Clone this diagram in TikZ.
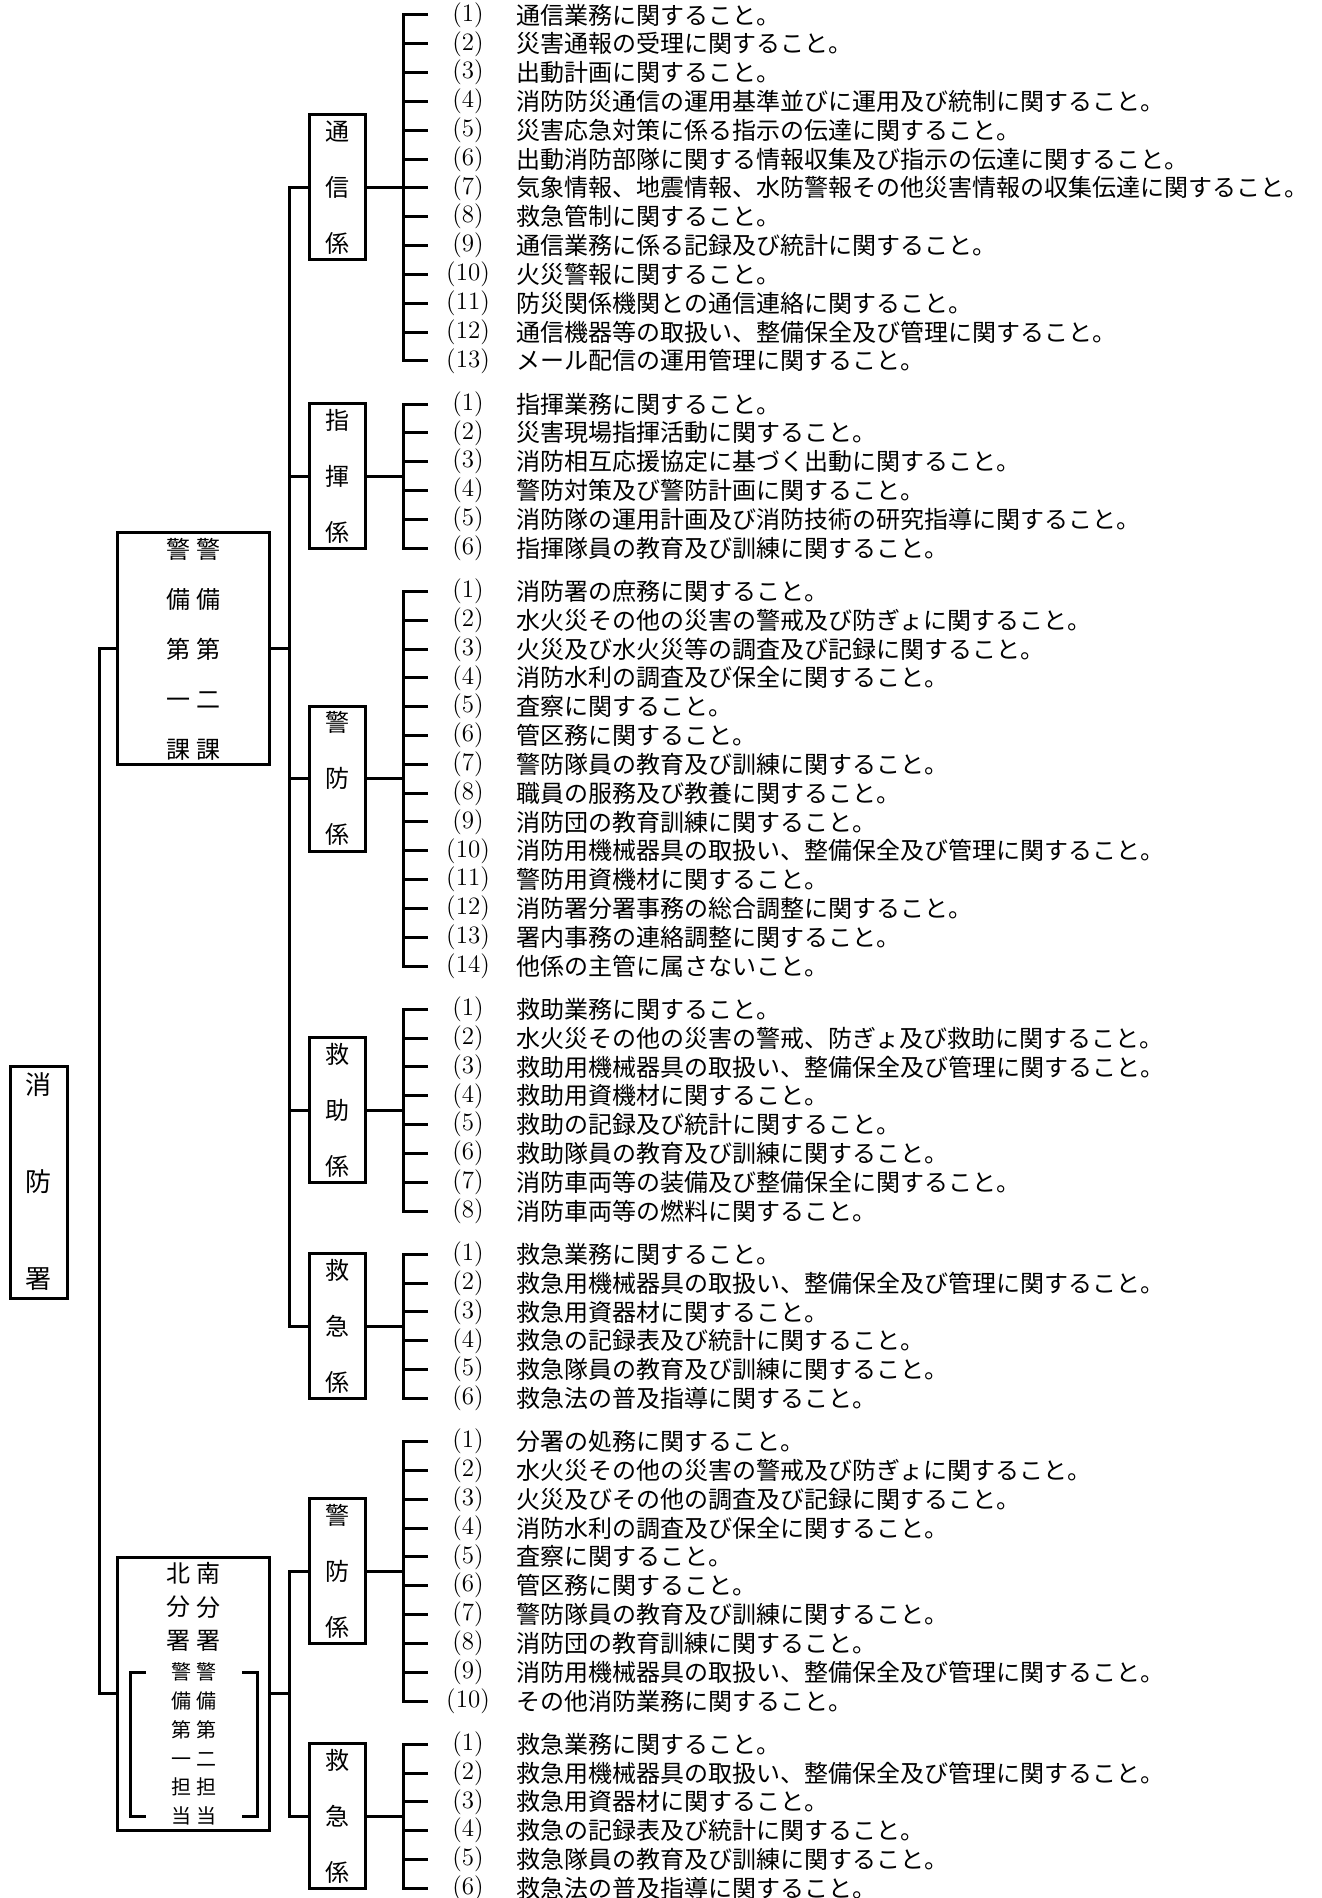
\documentclass[tikz,border=0pt]{standalone}
\usepackage{fontspec}
\newfontfamily\cjk{Noto Sans CJK JP}
\begin{document}
\begin{tikzpicture}[x=0.5pt, y=-0.5pt,
		conn/.style={line width=1.5pt},
		kakari/.style={draw, line width=1.5pt, minimum width=28pt, minimum height=72.5pt, inner sep=0pt, align=center, font=\cjk\fontsize{12pt}{28pt}\selectfont},
		num/.style={anchor=center, inner sep=0pt, font=\fontsize{12.5pt}{14pt}\selectfont},
		duty/.style={anchor=west, inner sep=0pt, font=\cjk\fontsize{12pt}{14pt}\selectfont},
		col/.style={inner sep=0pt, align=center}]

		\useasboundingbox (0,0) rectangle (1321,1898);

		\coordinate (sp1) at (99,0);
		\coordinate (sp2) at (289,0);

		% 消防署
		\node[draw, line width=1.5pt, minimum width=28.5pt, minimum height=116pt, inner sep=0pt, align=center,
			font=\cjk\fontsize{13pt}{48.5pt}\selectfont] (sho) at (38.5,1182) {消\\防\\署};

		% 警備第一課・第二課
		\node[draw, line width=1.5pt, minimum width=76pt, minimum height=115.5pt] (ka1) at (193,648.5) {};
		\node[col, font=\cjk\fontsize{12pt}{25pt}\selectfont] (ka1-l) at (178,649.5) {警\\備\\第\\一\\課};
		\node[col, font=\cjk\fontsize{12pt}{25pt}\selectfont] (ka1-r) at (208,649.5) {警\\備\\第\\二\\課};

		% 北・南分署
		\node[draw, line width=1.5pt, minimum width=76pt, minimum height=136.5pt] (bun) at (193,1693.5) {};
		\node[col, font=\cjk\fontsize{12pt}{16.75pt}\selectfont] (bun-l) at (178,1607) {北\\分\\署};
		\node[col, font=\cjk\fontsize{12pt}{16.75pt}\selectfont] (bun-r) at (208,1607) {南\\分\\署};
		\node[col, font=\cjk\fontsize{10pt}{14.4pt}\selectfont] (tan-l) at (181,1744) {警\\備\\第\\一\\担\\当};
		\node[col, font=\cjk\fontsize{10pt}{14.4pt}\selectfont] (tan-r) at (206,1744) {警\\備\\第\\二\\担\\当};
		\draw[conn] (146,1672) -- (130,1672) -- (130,1816) -- (146,1816);
		\draw[conn] (242,1672) -- (257,1672) -- (257,1816) -- (242,1816);

		\draw[conn] (ka1.west) -- (ka1.west -| sp1) -- (bun.west -| sp1) -- (bun.west);

		% 係
		\node[kakari] (tsu) at (337,187.5) {通\\信\\係};
		\node[kakari] (shi) at (337,476.2) {指\\揮\\係};
		\node[kakari] (kei) at (337,778.8) {警\\防\\係};
		\node[kakari] (jo) at (337,1110.2) {救\\助\\係};
		\node[kakari] (kyu) at (337,1326.4) {救\\急\\係};
		\node[kakari] (bkei) at (337,1571.3) {警\\防\\係};
		\node[kakari] (bkyu) at (337,1816.3) {救\\急\\係};

		\draw[conn] (tsu.west) -- (tsu.west -| sp2) -- (kyu.west -| sp2) -- (kyu.west);
		\draw[conn] (shi.west) -- (shi.west -| sp2);
		\draw[conn] (kei.west) -- (kei.west -| sp2);
		\draw[conn] (jo.west) -- (jo.west -| sp2);
		\draw[conn] (ka1.east) -- (ka1.east -| sp2);

		\draw[conn] (bkei.west) -- (bkei.west -| sp2) -- (bkyu.west -| sp2) -- (bkyu.west);
		\draw[conn] (bun.east) -- (bun.east -| sp2);

		% 通信係の事務
		\foreach \txt [count=\i] in {
				通信業務に関すること。,
				災害通報の受理に関すること。,
				出動計画に関すること。,
				消防防災通信の運用基準並びに運用及び統制に関すること。,
				災害応急対策に係る指示の伝達に関すること。,
				出動消防部隊に関する情報収集及び指示の伝達に関すること。,
				気象情報、地震情報、水防警報その他災害情報の収集伝達に関すること。,
				救急管制に関すること。,
				通信業務に係る記録及び統計に関すること。,
				火災警報に関すること。,
				防災関係機関との通信連絡に関すること。,
				通信機器等の取扱い、整備保全及び管理に関すること。,
				メール配信の運用管理に関すること。
			} {
				\pgfmathsetmacro{\yy}{15+(\i-1)*28.82}
				\coordinate (tsu-s\i) at (403,\yy);
				\coordinate (tsu-e\i) at (428,\yy);
				\draw[conn] (tsu-s\i) -- (tsu-e\i);
				\node[num] (tsu-n\i) at (468,\yy) {(\i)};
				\node[duty] (tsu-t\i) at (516,\yy) {\txt};
			}
		\draw[conn] (tsu-e1) -- (tsu-s1) -- (tsu-s13) -- (tsu-e13);
		\draw[conn] (tsu.east) -- (tsu.east -| tsu-s1);

		% 指揮係の事務
		\foreach \txt [count=\i] in {
				指揮業務に関すること。,
				災害現場指揮活動に関すること。,
				消防相互応援協定に基づく出動に関すること。,
				警防対策及び警防計画に関すること。,
				消防隊の運用計画及び消防技術の研究指導に関すること。,
				指揮隊員の教育及び訓練に関すること。
			} {
				\pgfmathsetmacro{\yy}{404.1+(\i-1)*28.82}
				\coordinate (shi-s\i) at (403,\yy);
				\coordinate (shi-e\i) at (428,\yy);
				\draw[conn] (shi-s\i) -- (shi-e\i);
				\node[num] (shi-n\i) at (468,\yy) {(\i)};
				\node[duty] (shi-t\i) at (516,\yy) {\txt};
			}
		\draw[conn] (shi-e1) -- (shi-s1) -- (shi-s6) -- (shi-e6);
		\draw[conn] (shi.east) -- (shi.east -| shi-s1);

		% 警防係の事務
		\foreach \txt [count=\i] in {
				消防署の庶務に関すること。,
				水火災その他の災害の警戒及び防ぎょに関すること。,
				火災及び水火災等の調査及び記録に関すること。,
				消防水利の調査及び保全に関すること。,
				査察に関すること。,
				管区務に関すること。,
				警防隊員の教育及び訓練に関すること。,
				職員の服務及び教養に関すること。,
				消防団の教育訓練に関すること。,
				消防用機械器具の取扱い、整備保全及び管理に関すること。,
				警防用資機材に関すること。,
				消防署分署事務の総合調整に関すること。,
				署内事務の連絡調整に関すること。,
				他係の主管に属さないこと。
			} {
				\pgfmathsetmacro{\yy}{591.4+(\i-1)*28.82}
				\coordinate (kei-s\i) at (403,\yy);
				\coordinate (kei-e\i) at (428,\yy);
				\draw[conn] (kei-s\i) -- (kei-e\i);
				\node[num] (kei-n\i) at (468,\yy) {(\i)};
				\node[duty] (kei-t\i) at (516,\yy) {\txt};
			}
		\draw[conn] (kei-e1) -- (kei-s1) -- (kei-s14) -- (kei-e14);
		\draw[conn] (kei.east) -- (kei.east -| kei-s1);

		% 救助係の事務
		\foreach \txt [count=\i] in {
				救助業務に関すること。,
				水火災その他の災害の警戒、防ぎょ及び救助に関すること。,
				救助用機械器具の取扱い、整備保全及び管理に関すること。,
				救助用資機材に関すること。,
				救助の記録及び統計に関すること。,
				救助隊員の教育及び訓練に関すること。,
				消防車両等の装備及び整備保全に関すること。,
				消防車両等の燃料に関すること。
			} {
				\pgfmathsetmacro{\yy}{1009.3+(\i-1)*28.82}
				\coordinate (jo-s\i) at (403,\yy);
				\coordinate (jo-e\i) at (428,\yy);
				\draw[conn] (jo-s\i) -- (jo-e\i);
				\node[num] (jo-n\i) at (468,\yy) {(\i)};
				\node[duty] (jo-t\i) at (516,\yy) {\txt};
			}
		\draw[conn] (jo-e1) -- (jo-s1) -- (jo-s8) -- (jo-e8);
		\draw[conn] (jo.east) -- (jo.east -| jo-s1);

		% 救急係の事務
		\foreach \txt [count=\i] in {
				救急業務に関すること。,
				救急用機械器具の取扱い、整備保全及び管理に関すること。,
				救急用資器材に関すること。,
				救急の記録表及び統計に関すること。,
				救急隊員の教育及び訓練に関すること。,
				救急法の普及指導に関すること。
			} {
				\pgfmathsetmacro{\yy}{1254.3+(\i-1)*28.82}
				\coordinate (kyu-s\i) at (403,\yy);
				\coordinate (kyu-e\i) at (428,\yy);
				\draw[conn] (kyu-s\i) -- (kyu-e\i);
				\node[num] (kyu-n\i) at (468,\yy) {(\i)};
				\node[duty] (kyu-t\i) at (516,\yy) {\txt};
			}
		\draw[conn] (kyu-e1) -- (kyu-s1) -- (kyu-s6) -- (kyu-e6);
		\draw[conn] (kyu.east) -- (kyu.east -| kyu-s1);

		% 分署 警防係の事務
		\foreach \txt [count=\i] in {
				分署の処務に関すること。,
				水火災その他の災害の警戒及び防ぎょに関すること。,
				火災及びその他の調査及び記録に関すること。,
				消防水利の調査及び保全に関すること。,
				査察に関すること。,
				管区務に関すること。,
				警防隊員の教育及び訓練に関すること。,
				消防団の教育訓練に関すること。,
				消防用機械器具の取扱い、整備保全及び管理に関すること。,
				その他消防業務に関すること。
			} {
				\pgfmathsetmacro{\yy}{1441.6+(\i-1)*28.82}
				\coordinate (bkei-s\i) at (403,\yy);
				\coordinate (bkei-e\i) at (428,\yy);
				\draw[conn] (bkei-s\i) -- (bkei-e\i);
				\node[num] (bkei-n\i) at (468,\yy) {(\i)};
				\node[duty] (bkei-t\i) at (516,\yy) {\txt};
			}
		\draw[conn] (bkei-e1) -- (bkei-s1) -- (bkei-s10) -- (bkei-e10);
		\draw[conn] (bkei.east) -- (bkei.east -| bkei-s1);

		% 分署 救急係の事務
		\foreach \txt [count=\i] in {
				救急業務に関すること。,
				救急用機械器具の取扱い、整備保全及び管理に関すること。,
				救急用資器材に関すること。,
				救急の記録表及び統計に関すること。,
				救急隊員の教育及び訓練に関すること。,
				救急法の普及指導に関すること。
			} {
				\pgfmathsetmacro{\yy}{1744.2+(\i-1)*28.82}
				\coordinate (bkyu-s\i) at (403,\yy);
				\coordinate (bkyu-e\i) at (428,\yy);
				\draw[conn] (bkyu-s\i) -- (bkyu-e\i);
				\node[num] (bkyu-n\i) at (468,\yy) {(\i)};
				\node[duty] (bkyu-t\i) at (516,\yy) {\txt};
			}
		\draw[conn] (bkyu-e1) -- (bkyu-s1) -- (bkyu-s6) -- (bkyu-e6);
		\draw[conn] (bkyu.east) -- (bkyu.east -| bkyu-s1);
	\end{tikzpicture}
\end{document}
